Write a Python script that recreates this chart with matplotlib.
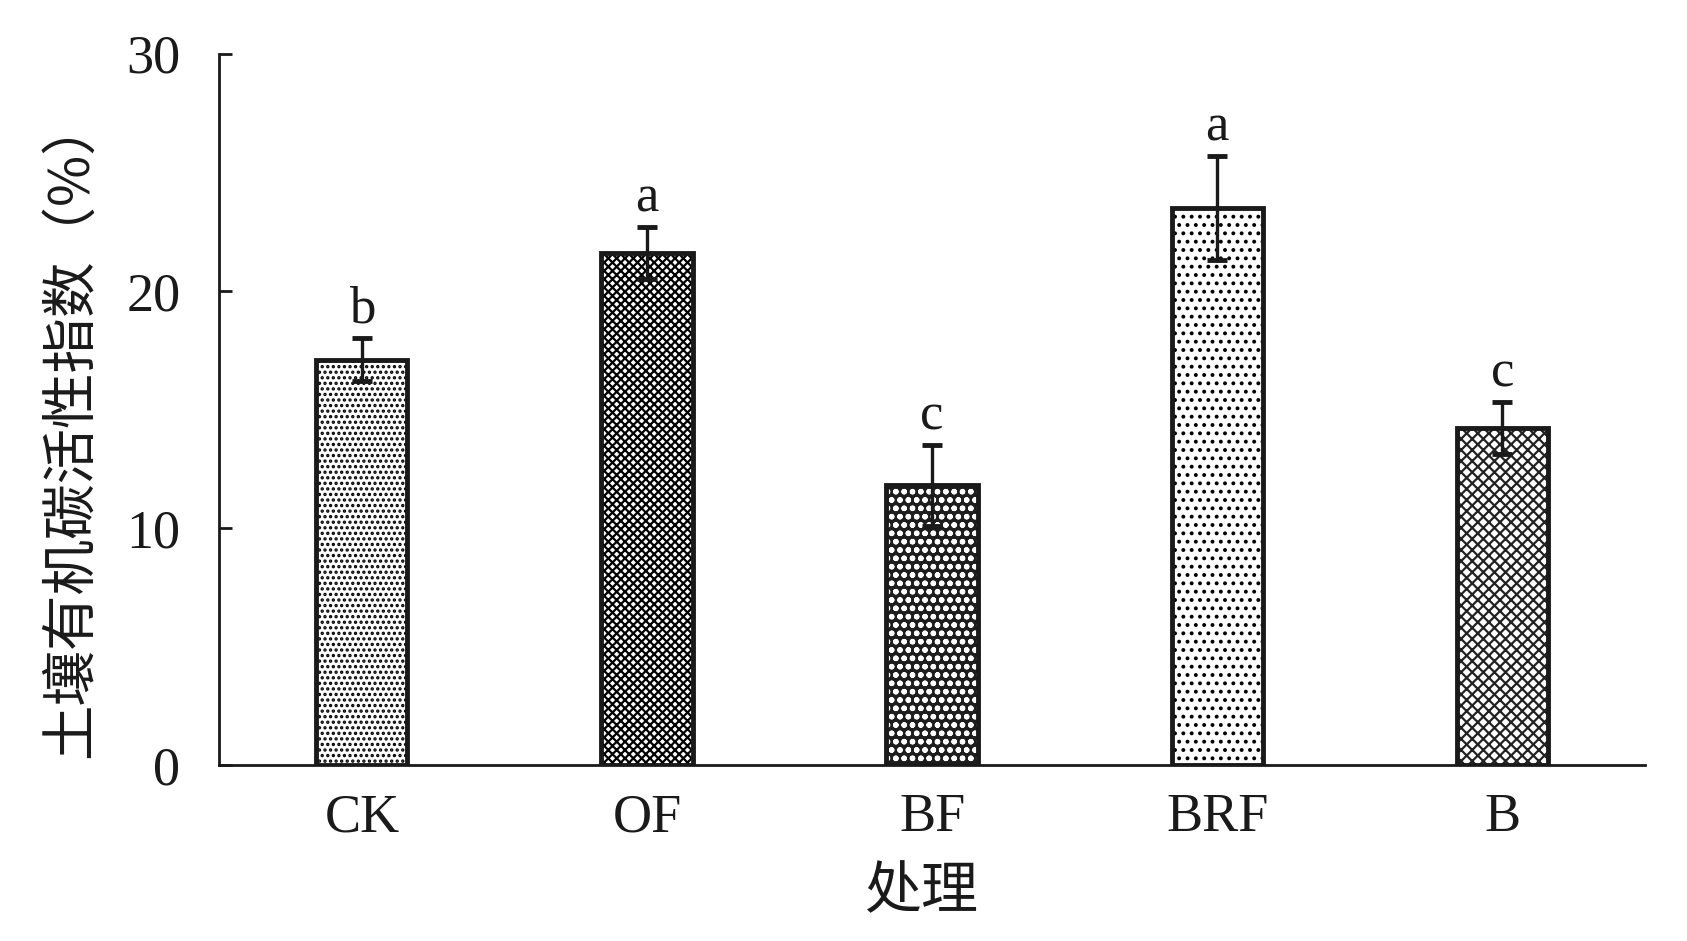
import matplotlib
matplotlib.use("Agg")
import matplotlib.pyplot as plt
import numpy as np

categories = ["CK", "OF", "BF", "BRF", "B"]
values = [17.1, 21.6, 11.8, 23.5, 14.2]
errors = [0.9, 1.1, 1.7, 2.2, 1.1]
letters = ["b", "a", "c", "a", "c"]
yticks = [0, 10, 20, 30]

facecolors = ["white", "white", "#1e1e1e", "white", "white"]
hatches = ["...", "xxxx", "oo", "..", "xxx"]
hatch_edge = ["black", "black", "white", "black", "#222222"]

plt.rcParams["hatch.linewidth"] = 1.6
serif = ["Liberation Serif", "Noto Sans CJK SC"]
cjk = ["Noto Sans CJK SC", "DejaVu Sans"]

fig = plt.figure(figsize=(16.87, 9.41), dpi=100)
ax = fig.add_axes([0.130, 0.187, 0.845, 0.756])

x = np.arange(len(categories))
w = 0.32
ax.bar(x, values, width=w, color=facecolors, linewidth=0, zorder=2)
for i in range(len(x)):
    ax.bar(x[i], values[i], width=w, color="none", edgecolor=hatch_edge[i],
           hatch=hatches[i], linewidth=0, zorder=2)
ax.bar(x, values, width=w, color="none", edgecolor="#1a1a1a",
       linewidth=3.5, zorder=3)
ax.errorbar(x, values, yerr=errors, fmt="none", ecolor="#1a1a1a",
            elinewidth=2.4, capsize=7, capthick=3.5, zorder=4)

for xi, v, e, t in zip(x, values, errors, letters):
    ax.text(xi, v + e + 0.65, t, ha="center", va="baseline",
            fontsize=38, family=serif, color="#1a1a1a")

ax.set_xlim(-0.5, len(categories) - 0.5)
ax.set_ylim(0, 30)
ax.set_yticks(yticks)
ax.set_xticks(x)
ax.set_xticklabels(categories, family=serif, fontsize=39)
ax.set_yticklabels([str(t) for t in yticks], family=serif, fontsize=39)
ax.tick_params(axis="y", direction="in", length=9, width=2, pad=28, colors="#1a1a1a")
ax.tick_params(axis="x", length=0, pad=20, colors="#1a1a1a")

for s in ["top", "right"]:
    ax.spines[s].set_visible(False)
for s in ["left", "bottom"]:
    ax.spines[s].set_linewidth(2)
    ax.spines[s].set_color("#1a1a1a")

ax.text(-0.104, 0.475, "土壤有机碳活性指数（%）", transform=ax.transAxes,
        rotation=90, ha="center", va="center", fontsize=40, family=cjk,
        color="#1a1a1a")
ax.text(0.492, -0.179, "处理", transform=ax.transAxes, ha="center",
        va="center", fontsize=41, family=cjk, color="#1a1a1a")

fig.savefig("out.png", dpi=100)
